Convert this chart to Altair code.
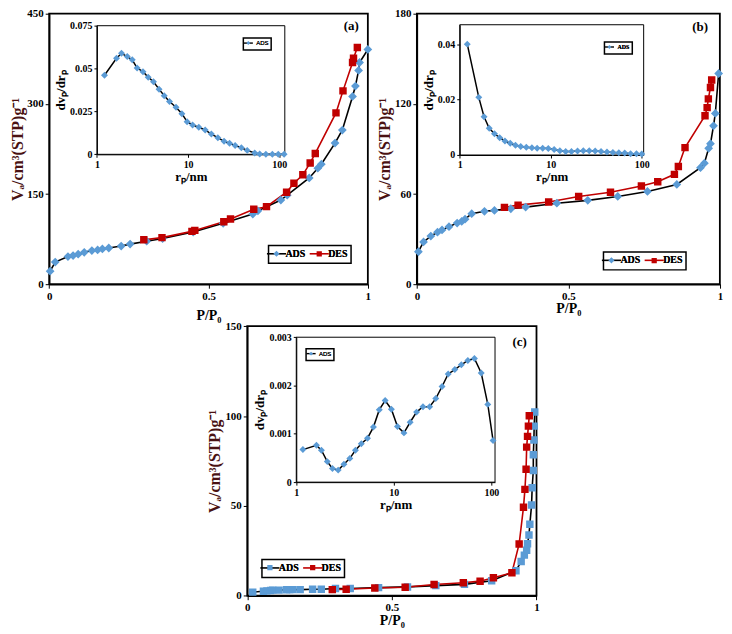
import altair as alt
import pandas as pd

# ---------------- data ----------------
# (a) isotherm
a_ads_p = [0.003, 0.019, 0.059, 0.075, 0.091, 0.110, 0.134, 0.152, 0.167, 0.187, 0.226, 0.254,
           0.306, 0.356, 0.452, 0.546, 0.639, 0.655, 0.727, 0.747, 0.816, 0.843, 0.854, 0.897,
           0.920, 0.952, 0.961, 0.971, 0.974, 1.0]
a_ads_v = [21.7, 36.9, 46.0, 47.7, 49.9, 53.1, 55.9, 57.0, 58.6, 60.2, 63.4, 66.7,
           71.6, 75.9, 86.8, 101.4, 116.6, 122.0, 140.0, 148.0, 176.8, 193.0, 199.6, 234.8,
           256.5, 312.4, 329.7, 355.7, 368.8, 390.5]
a_des_p = [0.297, 0.354, 0.448, 0.457, 0.548, 0.569, 0.642, 0.682, 0.745, 0.768, 0.796, 0.819,
           0.835, 0.900, 0.922, 0.952, 0.955, 0.967]
a_des_v = [73.8, 77.5, 87.9, 89.5, 104.0, 108.5, 124.7, 129.0, 153.0, 168.0, 182.0, 201.7,
           217.5, 285.0, 321.6, 368.8, 375.8, 393.7]
# (a) pore size distribution
a_r = [1.21, 1.64, 1.86, 2.15, 2.44, 2.76, 3.2, 3.65, 4.17, 4.8, 5.47, 6.25, 7.37, 8.55, 9.75,
       11.2, 13.1, 15.4, 18.0, 21.2, 24.8, 28.5, 32.8, 38.4, 44.5, 53.8, 61.0, 71.3, 84.0, 97.5, 113.0]
a_d = [0.0461, 0.056, 0.0589, 0.057, 0.0551, 0.0503, 0.0482, 0.045, 0.0423, 0.038, 0.0342,
       0.0308, 0.0275, 0.0237, 0.019, 0.0171, 0.0158, 0.0142, 0.0118, 0.0097, 0.0076, 0.0065,
       0.0051, 0.0038, 0.0023, 0.0008, 0.0002, 0.0, 0.0, 0.0, 0.0]

# (b) isotherm
b_ads_p = [0.005, 0.022, 0.046, 0.068, 0.083, 0.106, 0.133, 0.148, 0.159, 0.181, 0.223, 0.256,
           0.31, 0.359, 0.462, 0.564, 0.663, 0.761, 0.858, 0.936, 0.949, 0.963, 0.969, 0.979,
           0.985, 0.996]
b_ads_v = [21.6, 28.1, 32.0, 34.6, 36.1, 38.3, 40.7, 41.8, 43.3, 46.9, 48.5, 49.1,
           50.2, 51.3, 53.9, 55.8, 58.4, 61.7, 66.4, 77.5, 80.5, 90.4, 93.5, 105.4,
           113.6, 140.2]
b_des_p = [0.289, 0.334, 0.435, 0.534, 0.639, 0.741, 0.795, 0.85, 0.863, 0.885, 0.951, 0.958,
           0.962, 0.969, 0.973]
b_des_v = [51.1, 52.6, 54.7, 58.4, 61.2, 65.3, 68.2, 73.1, 78.3, 90.9, 112.1, 117.5,
           123.3, 130.9, 135.9]
# (b) pore size distribution
b_r = [1.21, 1.62, 1.85, 2.11, 2.41, 2.75, 3.14, 3.59, 4.1, 4.68, 5.39, 6.21, 7.09, 8.16, 9.4,
       10.9, 12.6, 14.6, 16.9, 19.7, 22.8, 26.5, 30.8, 35.7, 41.5, 48.2, 56.0, 65.0, 75.4, 87.5, 100.0]
b_d = [0.04, 0.0208, 0.0138, 0.00965, 0.00765, 0.00624, 0.00506, 0.00424, 0.00353, 0.00306,
       0.00282, 0.00259, 0.00247, 0.00247, 0.00235, 0.002, 0.00153, 0.00129, 0.00129, 0.00141,
       0.00153, 0.00153, 0.00141, 0.00129, 0.00106, 0.00094, 0.00082, 0.0007, 0.00047, 0.00047,
       0.00035]

# (c) isotherm
c_ads_p = [0.019, 0.056, 0.068, 0.081, 0.088, 0.11, 0.136, 0.147, 0.158, 0.183, 0.226, 0.256,
           0.305, 0.356, 0.454, 0.554, 0.652, 0.751, 0.845, 0.929, 0.947, 0.958, 0.966, 0.969,
           0.974, 0.977, 0.983, 0.985, 0.989, 0.989, 0.991, 0.992, 0.994]
c_ads_v = [2.0, 2.5, 2.7, 2.9, 3.1, 3.1, 3.3, 3.4, 3.4, 3.4, 3.6, 3.6,
           4.0, 4.0, 4.5, 4.9, 5.6, 6.3, 8.3, 13.9, 19.0, 22.6, 25.3, 28.9,
           33.8, 39.8, 50.5, 60.1, 69.7, 78.5, 86.7, 94.4, 102.2]
c_des_p = [0.294, 0.342, 0.441, 0.546, 0.646, 0.747, 0.805, 0.851, 0.915, 0.94, 0.955, 0.96,
           0.964, 0.966, 0.969, 0.972, 0.975]
c_des_v = [3.4, 3.6, 4.3, 4.7, 6.2, 7.2, 8.1, 10.0, 12.8, 28.8, 49.2, 59.2,
           70.4, 82.7, 88.7, 94.4, 100.2]
# (c) pore size distribution
c_r = [1.17, 1.61, 1.81, 2.08, 2.35, 2.69, 3.08, 3.54, 4.04, 4.64, 5.37, 6.18, 7.1, 8.15, 9.44,
       10.9, 12.7, 14.7, 17.1, 19.9, 23.3, 26.9, 31.2, 36.1, 42.2, 49.2, 57.4, 67.0, 78.7, 91.9, 104.0]
c_d = [0.000674, 0.000762, 0.000661, 0.000425, 0.000283, 0.000249, 0.000371, 0.000492,
       0.000661, 0.000796, 0.00091, 0.00114, 0.0015, 0.00169, 0.00151, 0.00115, 0.00102,
       0.00124, 0.00145, 0.00156, 0.00156, 0.00173, 0.00198, 0.00224, 0.00233, 0.00243,
       0.00252, 0.00256, 0.00226, 0.00161, 0.000863]

series_names = ["ADS", "DES"]
panel_labels = ["(a)", "(b)", "(c)"]

# ---------------- layout / style ----------------
W, H = 720, 620
FONT = "Liberation Serif"
BLUE = "#5b9bd5"
RED = "#c00000"
YTITLE = "#4a1212"
LABEL_EXPR = "'' + datum.value"


def mx(px):
    return round((px - 1) * 0.986, 2)


def my(py):
    return round(4 + (py - 6) * 0.982, 2)


# symbol paths (unit = sqrt(size)/2 px)
LINE_MAIN = "M0,-0.75M0,0.75M-2.4,0L2.4,0"
DIAM_MAIN = "M-2.4,0L2.4,0ZM0,-0.78L0.78,0L0,0.78L-0.78,0Z"
SQR_MAIN = "M-2.4,0L2.4,0ZM-0.66,-0.66L0.66,-0.66L0.66,0.66L-0.66,0.66Z"
LINE_IN = "M0,-1M0,1M-2.3,0L2.3,0"
DIAM_IN = "M-2.3,0L2.3,0ZM0,-1L1,0L0,1L-1,0Z"


def x_axis(yb, title, values, lsize, tsize, tpad, tick=4, dw=1.5):
    return alt.Axis(orient="bottom", offset=my(yb) - H, values=values, labelExpr=LABEL_EXPR,
                    title=title, grid=False, tickSize=tick, tickColor="black",
                    domainColor="black", domainWidth=dw, labelFont=FONT, labelFontSize=lsize,
                    labelFontWeight="bold", labelColor="black", labelPadding=2,
                    labelFlush=False, labelOverlap=False, titleFont=FONT, titleFontSize=tsize,
                    titleFontWeight="bold", titleColor="black", titlePadding=tpad)


def y_axis(x0, title, values, lsize, tsize, tpad, color, tick=4, dw=1.5):
    return alt.Axis(orient="left", offset=-mx(x0), values=values, labelExpr=LABEL_EXPR,
                    title=title, grid=False, tickSize=tick, tickColor="black",
                    domainColor="black", domainWidth=dw, labelFont=FONT, labelFontSize=lsize,
                    labelFontWeight="bold", labelColor="black", labelPadding=2,
                    labelFlush=False, labelOverlap=False, titleFont=FONT, titleFontSize=tsize,
                    titleFontWeight="bold", titleColor=color, titlePadding=tpad)


def frame(sx, sy, xd, yd, sw):
    df = pd.DataFrame({"x0": [xd[0]], "x1": [xd[1]], "y0": [yd[0]], "y1": [yd[1]]})
    return alt.Chart(df).mark_rect(fillOpacity=0, stroke="black", strokeWidth=sw).encode(
        x=alt.X("x0:Q", scale=sx, axis=None), x2="x1:Q",
        y=alt.Y("y0:Q", scale=sy, axis=None), y2="y1:Q")


def main_panel(box, ydom, yvals, ads_p, ads_v, des_p, des_v, ads_path, leg_box, label,
               label_pos, xtpad, ytpad):
    x0, x1, yb, yt = box
    sx = alt.Scale(domain=[0, 1], range=[mx(x0), mx(x1)], nice=False, zero=False)
    sy = alt.Scale(domain=ydom, range=[my(yb), my(yt)], nice=False, zero=False)
    rows = [{"series": "ADS", "p": p, "v": v, "i": i} for i, (p, v) in enumerate(zip(ads_p, ads_v))]
    rows += [{"series": "DES", "p": p, "v": v, "i": i} for i, (p, v) in enumerate(zip(des_p, des_v))]
    df = pd.DataFrame(rows)
    common = dict(orient="none", legendX=mx(leg_box[0]), legendY=my(leg_box[1]),
                  direction="horizontal", title=None, symbolSize=64, symbolStrokeWidth=1.6,
                  labelFont=FONT, labelFontSize=10, labelFontWeight="bold", labelColor="black",
                  labelOffset=4, columnPadding=0, padding=3)
    leg_line = alt.Legend(symbolType=LINE_MAIN, strokeColor="black", fillColor="white", **common)
    leg_pt = alt.Legend(symbolStrokeColor="transparent", **common)
    lines = alt.Chart(df).mark_line(strokeWidth=1.6).encode(
        x=alt.X("p:Q", scale=sx, axis=x_axis(yb, "P/P₀", [0, 0.5, 1], 11, 14, xtpad)),
        y=alt.Y("v:Q", scale=sy, axis=y_axis(x0, "Vₐ/cm³(STP)g⁻¹", yvals, 11, 16, ytpad, YTITLE)),
        color=alt.Color("series:N", scale=alt.Scale(domain=series_names, range=["black", RED]),
                        legend=leg_line),
        order="i:Q")
    pts = alt.Chart(df).mark_point(filled=True, opacity=1, size=128).encode(
        x=alt.X("p:Q", scale=sx, axis=None),
        y=alt.Y("v:Q", scale=sy, axis=None),
        color=alt.Color("series:N", scale=alt.Scale(domain=series_names, range=[BLUE, RED]),
                        legend=leg_pt),
        shape=alt.Shape("series:N", scale=alt.Scale(domain=series_names, range=[ads_path, SQR_MAIN]),
                        legend=leg_pt))
    tdf = pd.DataFrame({"t": [label], "x": [label_pos[0]], "y": [label_pos[1]]})
    txt = alt.Chart(tdf).mark_text(font=FONT, fontSize=13, fontWeight="bold", color="black").encode(
        x=alt.X("x:Q", scale=sx, axis=None), y=alt.Y("y:Q", scale=sy, axis=None), text="t:N")
    return [frame(sx, sy, [0, 1], ydom, 1.8), lines, pts, txt]


def inset_panel(box, xmax, ydom, yvals, r, d, leg_box, leg_font, leg_weight):
    x0, x1, yb, yt = box
    sx = alt.Scale(type="log", domain=[1, xmax], range=[mx(x0), mx(x1)], nice=False)
    sy = alt.Scale(domain=ydom, range=[my(yb), my(yt)], nice=False, zero=False)
    df = pd.DataFrame({"series": "ADS", "r": r, "d": d, "i": list(range(len(r)))})
    common = dict(orient="none", legendX=mx(leg_box[0]), legendY=my(leg_box[1]),
                  direction="horizontal", title=None, symbolSize=16, symbolStrokeWidth=1.4,
                  labelFont=leg_font, labelFontSize=6, labelFontWeight=leg_weight,
                  labelColor="black", labelOffset=5, padding=2)
    leg_line = alt.Legend(symbolType=LINE_IN, strokeColor="black", fillColor="white", **common)
    leg_pt = alt.Legend(symbolStrokeColor="transparent", **common)
    lines = alt.Chart(df).mark_line(strokeWidth=1.5).encode(
        x=alt.X("r:Q", scale=sx, axis=x_axis(yb, "rₚ/nm", [1, 10, 100], 10, 13, 1, tick=3, dw=1)),
        y=alt.Y("d:Q", scale=sy, axis=y_axis(x0, "dvₚ/drₚ", yvals, 10, 13, 2, "black", tick=3, dw=1)),
        color=alt.Color("series:N", scale=alt.Scale(domain=["ADS"], range=["black"]), legend=leg_line),
        order="i:Q")
    pts = alt.Chart(df).mark_point(filled=True, opacity=1, size=49).encode(
        x=alt.X("r:Q", scale=sx, axis=None),
        y=alt.Y("d:Q", scale=sy, axis=None),
        color=alt.Color("series:N", scale=alt.Scale(domain=["ADS"], range=[BLUE]), legend=leg_pt),
        shape=alt.Shape("series:N", scale=alt.Scale(domain=["ADS"], range=[DIAM_IN]), legend=leg_pt))
    return [frame(sx, sy, [1, xmax], ydom, 1), lines, pts]


layers = []
layers += main_panel((43, 368, 283, 6), [0, 450], [0, 150, 300, 450],
                     a_ads_p, a_ads_v, a_des_p, a_des_v, DIAM_MAIN, (266.7, 243.3),
                     panel_labels[0], (0.948, 430), 7, 1)
layers += inset_panel((91.7, 283.3, 150, 18.3), 115, [0, 0.075], [0, 0.025, 0.05, 0.075],
                      a_r, a_d, (241, 31), "Liberation Sans", "normal")
layers += main_panel((418, 727, 283, 6), [0, 180], [0, 60, 120, 180],
                     b_ads_p, b_ads_v, b_des_p, b_des_v, DIAM_MAIN, (608.3, 250),
                     panel_labels[1], (0.935, 171), 0, 2)
layers += inset_panel((461.7, 649.3, 150.7, 17.3), 105, [0, 0.047], [0, 0.02, 0.04],
                      b_r, b_d, (609.3, 35), FONT, "bold")
layers += main_panel((245, 540, 602, 326), [0, 150], [0, 50, 100, 150],
                     c_ads_p, c_ads_v, c_des_p, c_des_v, SQR_MAIN, (260, 565),
                     panel_labels[2], (0.942, 141), 1, 2)
layers += inset_panel((295, 497.7, 485.7, 337.3), 109, [0, 0.003], [0, 0.001, 0.002, 0.003],
                      c_r, c_d, (305, 349), "Liberation Sans", "normal")

chart = alt.layer(*layers).resolve_scale(
    x="independent", y="independent", color="independent", shape="independent"
).properties(width=W, height=H, autosize="none", padding=0).configure_view(
    stroke=None
).configure_legend(strokeWidth=1.5)

chart.save("out.html", embed_options={"renderer": "svg", "actions": False})
